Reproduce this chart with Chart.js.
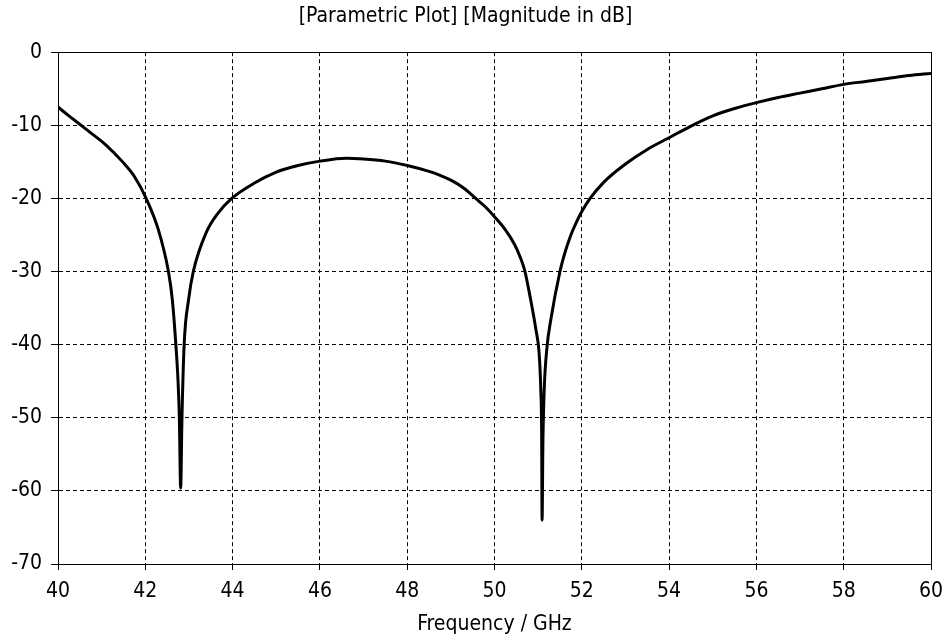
<!DOCTYPE html>
<html>
<head>
<meta charset="utf-8">
<script src="https://cdn.jsdelivr.net/npm/chart.js@4/dist/chart.umd.min.js"></script>
<style>
  html, body { margin: 0; padding: 0; background: #fff; }
  #wrap { width: 946px; height: 640px; }
</style>
</head>
<body>
<div id="wrap"><canvas id="c" width="946" height="640"></canvas></div>
<script>
// Frequency (GHz) and magnitude (dB)
const freqGHz = [40, 40.25, 40.53, 40.72, 41.1, 41.48, 41.75, 42.02, 42.3, 42.53, 42.62, 42.7, 42.75, 42.78, 42.81,
  42.84, 42.89, 42.99, 43.1, 43.4, 43.64, 43.98, 44.5, 45, 45.5, 46, 46.6, 47, 47.5, 48, 48.5, 48.74, 49,
  49.3, 49.55, 49.8, 50, 50.25, 50.46, 50.58, 50.69, 50.83, 50.95, 51.02, 51.06, 51.08, 51.09, 51.11, 51.14, 51.2, 51.29,
  51.5, 51.62, 51.75, 51.88, 52, 52.19, 52.5, 53, 53.5, 54, 54.5, 55, 55.5, 56, 56.5, 57, 57.5, 58, 58.5, 59, 59.5, 60];
const magnitudeDb = [-7.5, -8.7, -10, -10.9, -12.7, -15.0, -17.0, -20, -24.3, -30, -33.9, -40, -45, -50, -59.6,
  -50, -40, -33.9, -30, -24.6, -22.2, -20, -17.9, -16.4, -15.5, -14.9, -14.5, -14.6, -14.9, -15.5, -16.3, -16.8, -17.5,
  -18.6, -19.9, -21.2, -22.5, -24.3, -26.3, -27.9, -29.8, -33.9, -38, -41, -46, -52, -64, -53, -46, -40.5, -36.6,
  -30, -27.3, -25.0, -23.2, -21.8, -20, -17.8, -15.3, -13.3, -11.7, -10.1, -8.7, -7.7, -6.9, -6.2, -5.6, -5.0, -4.4, -4.0, -3.6, -3.2, -2.9];
const xTicks = [40, 42, 44, 46, 48, 50, 52, 54, 56, 58, 60];
const yTicks = [0, -10, -20, -30, -40, -50, -60, -70];
const chartTitle = '[Parametric Plot] [Magnitude in dB]';
const xLabel = 'Frequency / GHz';

const FONT = "'DejaVu Sans Condensed', 'DejaVu Sans', sans-serif";
const points = freqGHz.map((f, i) => ({ x: f, y: magnitudeDb[i] }));

const framePlugin = {
  id: 'frame',
  afterDatasetsDraw(chart) {
    const a = chart.chartArea, ctx = chart.ctx;
    ctx.save();
    ctx.strokeStyle = '#000';
    ctx.lineWidth = 1;
    ctx.setLineDash([]);
    ctx.strokeRect(Math.round(a.left) + 0.5, Math.round(a.top) + 0.5, Math.round(a.right - a.left), Math.round(a.bottom - a.top));
    ctx.restore();
  }
};

new Chart(document.getElementById('c'), {
  type: 'scatter',
  data: {
    datasets: [{
      data: points,
      showLine: true,
      borderColor: '#000',
      borderWidth: 3,
      pointRadius: 0,
      cubicInterpolationMode: 'monotone',
      fill: false
    }]
  },
  options: {
    responsive: false,
    animation: false,
    layout: { padding: { left: 0, right: 15, top: 0, bottom: 0 } },
    plugins: {
      legend: { display: false },
      tooltip: { enabled: false },
      title: {
        display: true,
        text: chartTitle,
        color: '#000',
        font: { family: FONT, size: 21, weight: 'normal' },
        padding: { top: 4, bottom: 23 }
      }
    },
    scales: {
      x: {
        type: 'linear',
        min: 40, max: 60,
        afterBuildTicks(s) { s.ticks = xTicks.map(v => ({ value: v })); },
        afterFit(s) { s.height = 76; s.paddingLeft = 0; s.paddingRight = 0; },
        ticks: { color: '#000', font: { family: FONT, size: 21 }, padding: 9, maxRotation: 0 },
        grid: { color: '#000', lineWidth: 1, tickLength: 6, tickColor: '#000', tickBorderDash: [] },
        border: { display: true, color: '#000', width: 1, dash: [4, 3] },
        title: { display: true, text: xLabel, color: '#000', font: { family: FONT, size: 21 }, padding: { top: 0, bottom: 3 } }
      },
      y: {
        type: 'linear',
        min: -70, max: 0,
        afterBuildTicks(s) { s.ticks = yTicks.map(v => ({ value: v })); },
        afterFit(s) { s.width = 58; s.paddingTop = 0; s.paddingBottom = 0; },
        ticks: { color: '#000', font: { family: FONT, size: 21 }, padding: 9 },
        grid: { color: '#000', lineWidth: 1, tickLength: 7, tickColor: '#000', tickBorderDash: [] },
        border: { display: true, color: '#000', width: 1, dash: [4, 3] }
      }
    }
  },
  plugins: [framePlugin]
});
</script>
</body>
</html>
